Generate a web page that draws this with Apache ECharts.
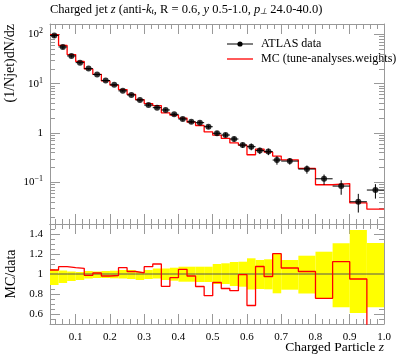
<!DOCTYPE html>
<html><head><meta charset="utf-8">
<script src="https://cdn.jsdelivr.net/npm/echarts@6/dist/echarts.min.js"></script>
<style>html,body{margin:0;padding:0;background:#fff}#c{width:397px;height:358px}</style>
</head><body><div id="c"></div>
<script>
// ---- data ----
const binEdges = [0.025,0.05,0.075,0.1,0.125,0.15,0.175,0.2,0.225,0.25,0.275,0.3,0.325,0.35,0.375,0.4,0.425,0.45,0.475,0.5,0.525,0.55,0.575,0.6,0.625,0.65,0.675,0.7,0.75,0.8,0.85,0.9,0.95,1.0];
const dataValues = [95,55.5,36.5,26.7,20.2,15.3,11.6,9.5,7.15,5.9,4.67,3.68,3.26,2.93,2.39,1.92,1.69,1.62,1.34,0.986,0.91,0.755,0.57,0.528,0.44,0.42,0.283,0.27,0.186,0.118,0.084,0.0404,0.0698];
const dataErrUp = [4.3,1.9,0.9,0.53,0.6,0.38,0.35,0.31,0.29,0.24,0.11,0.15,0.18,0.16,0.15,0.14,0.12,0.12,0.1,0.1,0.097,0.09,0.07,0.083,0.062,0.062,0.057,0.038,0.034,0.026,0.026,0.018,0.022];
const dataErrDown = [10.4,5.0,2.6,1.6,0.9,0.61,0.46,0.41,0.32,0.3,0.28,0.18,0.15,0.18,0.16,0.15,0.13,0.13,0.11,0.1,0.091,0.09,0.072,0.082,0.066,0.064,0.055,0.042,0.036,0.029,0.028,0.016,0.023];
const mcValues = [98.8,59.6,38.8,28.2,19.9,15.45,11.37,9.36,7.6,6.05,4.73,3.95,3.59,2.57,2.30,2.01,1.66,1.42,1.05,0.902,0.778,0.629,0.566,0.362,0.473,0.41,0.340,0.286,0.191,0.0893,0.0943,0.0384,0.0286];
const ratioValues = [1.04,1.073,1.063,1.057,0.987,1.01,0.98,0.985,1.063,1.025,1.012,1.073,1.10,0.877,0.963,1.047,0.98,0.875,0.783,0.915,0.855,0.833,0.993,0.685,1.075,0.975,1.203,1.06,1.025,0.757,1.123,0.95,0.41];
const bandUpper = [1.045,1.035,1.025,1.02,1.03,1.025,1.03,1.033,1.04,1.04,1.023,1.04,1.055,1.055,1.063,1.073,1.073,1.073,1.073,1.1,1.107,1.12,1.123,1.157,1.14,1.147,1.2,1.14,1.183,1.223,1.307,1.44,1.31];
const bandLower = [0.89,0.91,0.93,0.94,0.955,0.96,0.96,0.957,0.955,0.95,0.94,0.95,0.955,0.94,0.933,0.923,0.923,0.92,0.92,0.9,0.9,0.88,0.873,0.845,0.85,0.847,0.807,0.843,0.805,0.752,0.667,0.61,0.667];

const xMajorTicks = [0.1,0.2,0.3,0.4,0.5,0.6,0.7,0.8,0.9,1.0];
const xMinorTicks = [0.04,0.06,0.08,0.12,0.14,0.16,0.18,0.22,0.24,0.26,0.28,0.32,0.34,0.36,0.38,0.42,0.44,0.46,0.48,0.52,0.54,0.56,0.58,0.62,0.64,0.66,0.68,0.72,0.74,0.76,0.78,0.82,0.84,0.86,0.88,0.92,0.94,0.96,0.98];
const yLogMajorTicks = [0.1,1,10,100];
const yLogMinorTicks = [0.02,0.03,0.04,0.05,0.06,0.07,0.08,0.09,0.2,0.3,0.4,0.5,0.6,0.7,0.8,0.9,2,3,4,5,6,7,8,9,20,30,40,50,60,70,80,90];
const ratioMajorTicks = [0.6,0.8,1.0,1.2,1.4];
const ratioMinorTicks = [0.55,0.65,0.7,0.75,0.85,0.9,0.95,1.05,1.1,1.15,1.25,1.3,1.35,1.45];

const X_MIN = 0.025, X_MAX = 1.0, Y_MIN = 0.0143, Y_MAX = 162, R_MIN = 0.5, R_MAX = 1.5;

// ---- chart ----
const FONT = 'Liberation Serif';
const AX = '#999';
const chart = echarts.init(document.getElementById('c'), null, {renderer:'canvas'});

function xAx(grid, pos, ticks, len, line, labels) {
  return {
    type:'value', gridIndex:grid, position:pos, min:X_MIN, max:X_MAX, splitNumber:10,
    axisLine:{show:line, onZero:false, lineStyle:{color:AX, width:1}},
    axisTick:{show:true, inside:true, length:len, customValues:ticks, lineStyle:{color:AX, width:1}},
    axisLabel: labels ? {show:true, customValues:labels, margin:8, color:'#000', fontFamily:FONT, fontSize:11,
      formatter:v=>v.toFixed(1)} : {show:false},
    splitLine:{show:false}
  };
}
function yAx(grid, pos, type, min, max, ticks, len, line, labels, fmt) {
  const o = {
    type:type, gridIndex:grid, position:pos, min:min, max:max,
    axisLine:{show:line, onZero:false, lineStyle:{color:AX, width:1}},
    axisTick:{show:true, inside:true, length:len, customValues:ticks, lineStyle:{color:AX, width:1}},
    axisLabel: labels ? {show:true, customValues:labels, margin:7, color:'#000', fontFamily:FONT, fontSize:11,
      formatter:fmt, rich:{n:{fontFamily:FONT,fontSize:11,color:'#000'}, s:{fontFamily:FONT,fontSize:8,color:'#000',verticalAlign:'top',padding:[0,0,6,0]}}} : {show:false},
    splitLine:{show:false}
  };
  if (type === 'log') o.logBase = 10;
  return o;
}
const logFmt = v => {
  const e = Math.round(Math.log10(v));
  if (e === 0) return '{n|1}';
  return '{n|10}{s|' + (e < 0 ? '\u2212' : '') + Math.abs(e) + '}';
};
const ratioFmt = v => (Math.abs(v-1) < 1e-9 ? '1' : v.toFixed(1));

const nBins = dataValues.length;
const mcStep = [], ratioStep = [], unitStep = [], bandData = [], errData = [], pointData = [];
for (let i = 0; i < nBins; i++) {
  const lo = binEdges[i], hi = binEdges[i+1];
  mcStep.push([lo, mcValues[i]]);
  ratioStep.push([lo, ratioValues[i]]);
  unitStep.push([lo, 1]);
  bandData.push([lo, hi, bandUpper[i], bandLower[i]]);
  errData.push([lo, hi, dataValues[i], dataValues[i]+dataErrUp[i], dataValues[i]-dataErrDown[i]]);
  pointData.push([(lo+hi)/2, dataValues[i]]);
}
mcStep.push([binEdges[nBins], mcValues[nBins-1]]);
ratioStep.push([binEdges[nBins], ratioValues[nBins-1]]);
unitStep.push([binEdges[nBins], 1]);

const option = {
  animation:false,
  backgroundColor:'#fff',
  grid:[
    {left:50, top:24, width:334, height:200, containLabel:false},
    {left:50, top:224, width:334, height:100, containLabel:false}
  ],
  xAxis:[
    xAx(0,'bottom',xMajorTicks,10,true,null),
    xAx(0,'top',xMajorTicks,10,true,null),
    xAx(0,'bottom',xMinorTicks,5,false,null),
    xAx(0,'top',xMinorTicks,5,false,null),
    xAx(1,'bottom',xMajorTicks,10,true,xMajorTicks),
    xAx(1,'top',xMajorTicks,10,true,null),
    xAx(1,'bottom',xMinorTicks,5,false,null),
    xAx(1,'top',xMinorTicks,5,false,null)
  ],
  yAxis:[
    yAx(0,'left','log',Y_MIN,Y_MAX,yLogMajorTicks,10,true,yLogMajorTicks,logFmt),
    yAx(0,'right','log',Y_MIN,Y_MAX,yLogMajorTicks,10,true,null),
    yAx(0,'left','log',Y_MIN,Y_MAX,yLogMinorTicks,5,false,null),
    yAx(0,'right','log',Y_MIN,Y_MAX,yLogMinorTicks,5,false,null),
    yAx(1,'left','value',R_MIN,R_MAX,ratioMajorTicks,10,true,ratioMajorTicks,ratioFmt),
    yAx(1,'right','value',R_MIN,R_MAX,ratioMajorTicks,10,true,null),
    yAx(1,'left','value',R_MIN,R_MAX,ratioMinorTicks,5,false,null),
    yAx(1,'right','value',R_MIN,R_MAX,ratioMinorTicks,5,false,null)
  ],
  series:[
    {
      type:'custom', name:'band', xAxisIndex:4, yAxisIndex:4, clip:true, z:1,
      data:bandData,
      renderItem:(params, api) => {
        const p1 = api.coord([api.value(0), api.value(2)]);
        const p2 = api.coord([api.value(1), api.value(3)]);
        return {type:'rect', shape:{x:p1[0], y:p1[1], width:p2[0]-p1[0], height:p2[1]-p1[1]},
          style:{fill:'#ffff00', stroke:null}};
      }
    },
    {
      type:'line', name:'dataRatio', xAxisIndex:4, yAxisIndex:4, data:unitStep, step:'end',
      symbol:'none', lineStyle:{color:'#555', width:1}, z:3
    },
    {
      type:'line', name:'mcRatio', xAxisIndex:4, yAxisIndex:4, data:ratioStep, step:'end',
      symbol:'none', lineStyle:{color:'#ff0000', width:1.3}, z:4, clip:true
    },
    {
      type:'line', name:'MC', xAxisIndex:0, yAxisIndex:0, data:mcStep, step:'end',
      symbol:'none', lineStyle:{color:'#ff0000', width:1.3}, z:3
    },
    {
      type:'custom', name:'dataErr', xAxisIndex:0, yAxisIndex:0, clip:true, z:5,
      data:errData,
      renderItem:(params, api) => {
        const a = api.coord([api.value(0), api.value(2)]);
        const b = api.coord([api.value(1), api.value(2)]);
        const xc = (a[0]+b[0])/2;
        const t = api.coord([X_MIN, api.value(3)]);
        const d = api.coord([X_MIN, api.value(4)]);
        return {type:'group', children:[
          {type:'line', shape:{x1:a[0], y1:a[1], x2:b[0], y2:b[1]}, style:{stroke:'#000', lineWidth:1}},
          {type:'line', shape:{x1:xc, y1:t[1], x2:xc, y2:d[1]}, style:{stroke:'#000', lineWidth:1}}
        ]};
      }
    },
    {
      type:'scatter', name:'ATLAS data', xAxisIndex:0, yAxisIndex:0, data:pointData,
      symbol:'circle', symbolSize:6, itemStyle:{color:'#000'}, z:6
    }
  ],
  graphic:[
    {type:'text', left:50, top:3, style:{
      text:'{r|Charged jet }{i|z}{r| (anti-}{i|k}{sb|t}{r|, R = 0.6, }{i|y}{r| 0.5-1.0, }{i|p}{sb|\u22a5}{r| 24.0-40.0)}',
      rich:{
        r:{fontFamily:FONT, fontSize:12.5, fill:'#000'},
        i:{fontFamily:FONT, fontSize:12.5, fontStyle:'italic', fill:'#000'},
        sb:{fontFamily:FONT, fontSize:8.5, fontStyle:'italic', fill:'#000', verticalAlign:'bottom'}
      }}},
    {type:'text', x:10, y:24, rotation:Math.PI/2, style:{
      text:'(1/Njet)dN/dz', align:'right', verticalAlign:'middle', fontFamily:FONT, fontSize:14, fill:'#000'}},
    {type:'text', x:11, y:274, rotation:Math.PI/2, style:{
      text:'MC/data', align:'center', verticalAlign:'middle', fontFamily:FONT, fontSize:14, fill:'#000'}},
    {type:'text', x:384, y:347, style:{
      text:'{r|Charged Particle }{i|z}', align:'right', verticalAlign:'middle',
      rich:{
        r:{fontFamily:FONT, fontSize:13.5, fill:'#000'},
        i:{fontFamily:FONT, fontSize:13.5, fontStyle:'italic', fill:'#000'}
      }}},
    // legend
    {type:'line', shape:{x1:227, y1:44, x2:253, y2:44}, style:{stroke:'#000', lineWidth:1}},
    {type:'circle', shape:{cx:240, cy:44, r:2.6}, style:{fill:'#000'}},
    {type:'text', x:261, y:44, style:{text:'ATLAS data', align:'left', verticalAlign:'middle', fontFamily:FONT, fontSize:12, fill:'#000'}},
    {type:'line', shape:{x1:227, y1:59, x2:253, y2:59}, style:{stroke:'#ff0000', lineWidth:1.3}},
    {type:'text', x:261, y:59, style:{text:'MC (tune-analyses.weights)', align:'left', verticalAlign:'middle', fontFamily:FONT, fontSize:12, fill:'#000'}}
  ]
};
chart.setOption(option);
</script>
</body></html>
